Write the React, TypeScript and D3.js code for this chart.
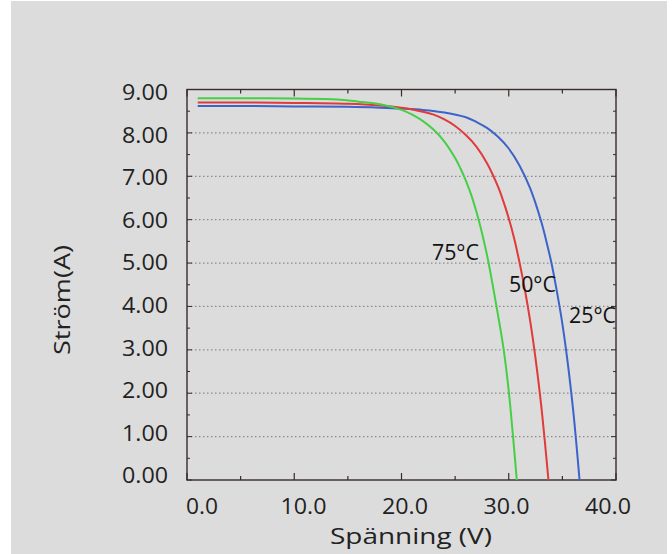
import React from "react";
import * as d3 from "d3";

const W = 672;
const H = 554;

type Pt = [number, number];

const series25: Pt[] = [
  [1, 8.62], [5, 8.62], [10, 8.61], [15, 8.6], [18, 8.58], [20, 8.56], [22, 8.53], [24, 8.47],
  [26, 8.36], [27, 8.25], [28, 8.11], [29, 7.91], [30, 7.64], [31, 7.25], [32, 6.72], [33, 5.98],
  [33.5, 5.51], [34, 4.98], [34.5, 4.33], [35, 3.6], [35.5, 2.7], [36, 1.62], [36.3, 0.85], [36.6, 0],
];
const series50: Pt[] = [
  [1, 8.7], [5, 8.7], [10, 8.69], [15, 8.67], [18, 8.63], [20, 8.58], [21, 8.54], [23, 8.42],
  [24, 8.31], [25, 8.16], [26, 7.95], [27, 7.68], [28, 7.29], [29, 6.76], [29.5, 6.42], [30, 6.03],
  [30.5, 5.57], [31, 5.02], [31.5, 4.39], [32, 3.66], [32.5, 2.8], [33, 1.78], [33.4, 0.8], [33.7, 0],
];
const series75: Pt[] = [
  [1, 8.8], [5, 8.8], [10, 8.79], [14, 8.77], [16, 8.72], [18, 8.66], [20, 8.53], [21, 8.42],
  [22, 8.27], [23, 8.07], [24, 7.8], [25, 7.42], [25.5, 7.18], [26, 6.9], [26.5, 6.57], [27, 6.17],
  [27.5, 5.7], [28, 5.15], [28.5, 4.5], [29, 3.8], [29.5, 3.05], [30, 2.05], [30.4, 1.0], [30.75, 0],
];

const seriesNames = ["25°C", "50°C", "75°C"];
const seriesColors = ["#3b63c9", "#e03a3a", "#46cf46"];
const seriesData = [series25, series50, series75];
const labelAnchors: Pt[] = [[35.62, 3.62], [30.02, 4.34], [22.84, 5.07]];

const yTicks = [0, 1, 2, 3, 4, 5, 6, 7, 8, 9];
const xTicks = [0, 10, 20, 30, 40];
const gridValues = [1, 2, 3, 4, 5, 6, 7, 8];

export default function App() {
  const left = 187, right = 616, top = 89.5, bottom = 480;
  const x = d3.scaleLinear().domain([0, 40]).range([left, right]);
  const y = d3.scaleLinear().domain([0, 9]).range([bottom, top]);
  // tick labels in the reference sit slightly offset from the ticks
  const xLab = d3.scaleLinear().domain([0, 40]).range([202, 608]);
  const yLab = d3.scaleLinear().domain([0, 9]).range([483.3, 100]);

  const line = d3
    .line<Pt>()
    .x((d) => x(d[0]))
    .y((d) => y(d[1]))
    .curve(d3.curveCatmullRom.alpha(0.5));

  const minorX = d3.range(0, 40.01, 5);
  const minorY = d3.range(0, 9.01, 0.5);
  const font = "'Open Sans', 'Noto Sans', sans-serif";
  const axisColor = "#3a2a2a";

  return (
    <svg
      width={W}
      height={H}
      style={{ position: "absolute", left: 0, top: 0, display: "block" }}
      fontFamily={font}
    >
      <rect x={0} y={0} width={W} height={H} fill="#ffffff" />
      <rect x={11} y={1} width={656} height={H - 1} fill="#dcdcdc" />

      {/* gridlines */}
      {gridValues.map((v) => (
        <line
          key={"g" + v}
          x1={left}
          x2={right}
          y1={y(v)}
          y2={y(v)}
          stroke="#8a8a8a"
          strokeWidth={1.2}
          strokeDasharray="1.5,2.5"
        />
      ))}

      {/* minor/major ticks on left & right */}
      {minorY.map((v) => {
        const major = Math.abs(v - Math.round(v)) < 1e-6;
        const len = major ? 5 : 3;
        return (
          <g key={"ty" + v}>
            <line x1={left} x2={left + len} y1={y(v)} y2={y(v)} stroke={axisColor} strokeWidth={1} />
            <line x1={right} x2={right - len} y1={y(v)} y2={y(v)} stroke={axisColor} strokeWidth={1} />
          </g>
        );
      })}
      {minorX.map((v) => {
        const major = v % 10 === 0;
        const len = major ? 7 : 4;
        return (
          <g key={"tx" + v}>
            <line x1={x(v)} x2={x(v)} y1={bottom} y2={bottom - len} stroke={axisColor} strokeWidth={1.2} />
            <line x1={x(v)} x2={x(v)} y1={top} y2={top + len} stroke={axisColor} strokeWidth={1.2} />
          </g>
        );
      })}

      {/* frame */}
      <rect
        x={left}
        y={top}
        width={right - left}
        height={bottom - top}
        fill="none"
        stroke={axisColor}
        strokeWidth={1.4}
      />

      {/* curves */}
      {seriesData.map((s, i) => (
        <path
          key={"s" + i}
          d={line(s) || ""}
          fill="none"
          stroke={seriesColors[i]}
          strokeWidth={2}
        />
      ))}

      {/* series labels */}
      {seriesNames.map((n, i) => (
        <text
          key={"l" + i}
          x={x(labelAnchors[i][0])}
          y={y(labelAnchors[i][1])}
          fontSize={22}
          textLength={47}
          lengthAdjust="spacingAndGlyphs"
          fill="#111"
        >
          {n}
        </text>
      ))}

      {/* y tick labels */}
      {yTicks.map((v) => (
        <text
          key={"yl" + v}
          x={168}
          y={yLab(v)}
          textAnchor="end"
          fontSize={21}
          textLength={46}
          lengthAdjust="spacingAndGlyphs"
          fill="#222"
        >
          {v.toFixed(2)}
        </text>
      ))}

      {/* x tick labels */}
      {xTicks.map((v) => (
        <text
          key={"xl" + v}
          x={xLab(v)}
          y={514}
          textAnchor="middle"
          fontSize={21}
          textLength={v === 0 ? 32 : 46}
          lengthAdjust="spacingAndGlyphs"
          fill="#222"
        >
          {v.toFixed(1)}
        </text>
      ))}

      {/* axis titles */}
      <text
        x={411}
        y={544}
        textAnchor="middle"
        fontSize={22}
        textLength={162}
        lengthAdjust="spacingAndGlyphs"
        fill="#222"
      >
        Spänning (V)
      </text>
      <text
        transform={`translate(70,300) rotate(-90)`}
        textAnchor="middle"
        fontSize={22}
        textLength={110}
        lengthAdjust="spacingAndGlyphs"
        fill="#222"
      >
        Ström(A)
      </text>
    </svg>
  );
}
